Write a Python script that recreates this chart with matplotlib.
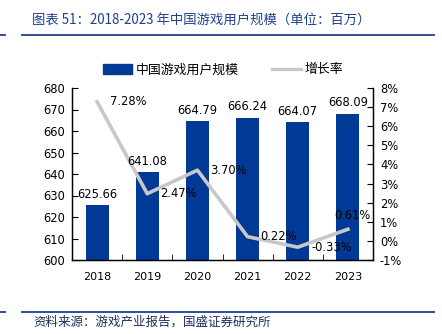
import matplotlib.pyplot as plt
import numpy as np
from matplotlib.lines import Line2D

plt.rcParams['font.family'] = ['DejaVu Sans', 'Noto Sans CJK SC']
cjk = ['Noto Sans CJK SC', 'DejaVu Sans']

years = ['2018', '2019', '2020', '2021', '2022', '2023']
users = [625.66, 641.08, 664.79, 666.24, 664.07, 668.09]
growth = [7.28, 2.47, 3.70, 0.22, -0.33, 0.61]

bar_color = '#003A96'
line_color = '#C8C8C8'
title_color = '#1F3F8F'

fig = plt.figure(figsize=(4.42, 3.34), dpi=100)
ax = fig.add_axes([72 / 442, 1 - 260 / 334, 301 / 442, 172 / 334])
ax2 = ax.twinx()

x = np.arange(len(years))
bars = ax.bar(x, users, width=0.46, color=bar_color, zorder=2)
ax.set_ylim(600, 680)
ax.set_yticks(np.arange(600, 681, 10))
ax.set_xlim(-0.5, len(years) - 0.5)
ax.set_xticks(x)
ax.set_xticklabels(years)
ax.set_xticks(np.arange(-0.5, len(years), 1), minor=True)
ax.tick_params(axis='x', which='major', length=0, pad=9, labelsize=8)
ax.tick_params(axis='x', which='minor', direction='in', length=4)
ax.tick_params(axis='y', direction='in', length=4, labelsize=8.3, pad=5)

ax2.plot(x, growth, color=line_color, lw=2.6, zorder=3)
ax2.set_ylim(-1, 8)
ax2.set_yticks(np.arange(-1, 9, 1))
ax2.set_yticklabels([f'{t}%' for t in range(-1, 9)])
ax2.tick_params(axis='y', direction='in', length=4, labelsize=8.3, pad=5)

# bar value labels drawn on top axes so they sit above the line
for b, v in zip(bars, users):
    ax2.annotate(f'{v:.2f}', (b.get_x() + b.get_width() / 2, v),
                 xycoords=ax.transData, xytext=(0, 3), textcoords='offset points',
                 ha='center', va='bottom', fontsize=8.3, zorder=5)

offsets = [(9.4, 0), (9.4, 0), (9.4, 0), (9.4, 0), (10, 0), (-10, 10)]
for xi, g, off in zip(x, growth, offsets):
    ax2.annotate(f'{g:.2f}%', (xi, g), xytext=off, textcoords='offset points',
                 ha='left', va='center', fontsize=8.3, zorder=5)

for a in (ax, ax2):
    a.spines['top'].set_visible(False)
    for s in ('left', 'right', 'bottom'):
        a.spines[s].set_linewidth(0.9)

handles = [plt.Rectangle((0, 0), 1, 1, color=bar_color),
           Line2D([0], [0], color=line_color, lw=2.4)]
fig.legend(handles, ['中国游戏用户规模', '增长率'], loc='center',
           bbox_to_anchor=(0.505, 1 - 70 / 334), ncol=2, frameon=False,
           prop={'family': cjk, 'size': 9.3}, handlelength=2.2, handleheight=0.7,
           columnspacing=2.6, handletextpad=0.3)

fig.text(32 / 442, 1 - 20 / 334, '图表 51：2018-2023 年中国游戏用户规模（单位：百万）',
         family=cjk, fontsize=9.6, color=title_color, style='italic',
         va='center', ha='left')
fig.text(33 / 442, 1 - 322 / 334, '资料来源：游戏产业报告，国盛证券研究所',
         family=cjk, fontsize=9, color='#1F2F5F', style='italic',
         va='center', ha='left')
for yy in (35, 312):
    fig.add_artist(Line2D([22 / 442, 434 / 442], [1 - yy / 334] * 2,
                          color=title_color, lw=1.3))
    fig.add_artist(Line2D([0, 5 / 442], [1 - yy / 334] * 2,
                          color=title_color, lw=1.3))

fig.savefig('out.png', dpi=100)
